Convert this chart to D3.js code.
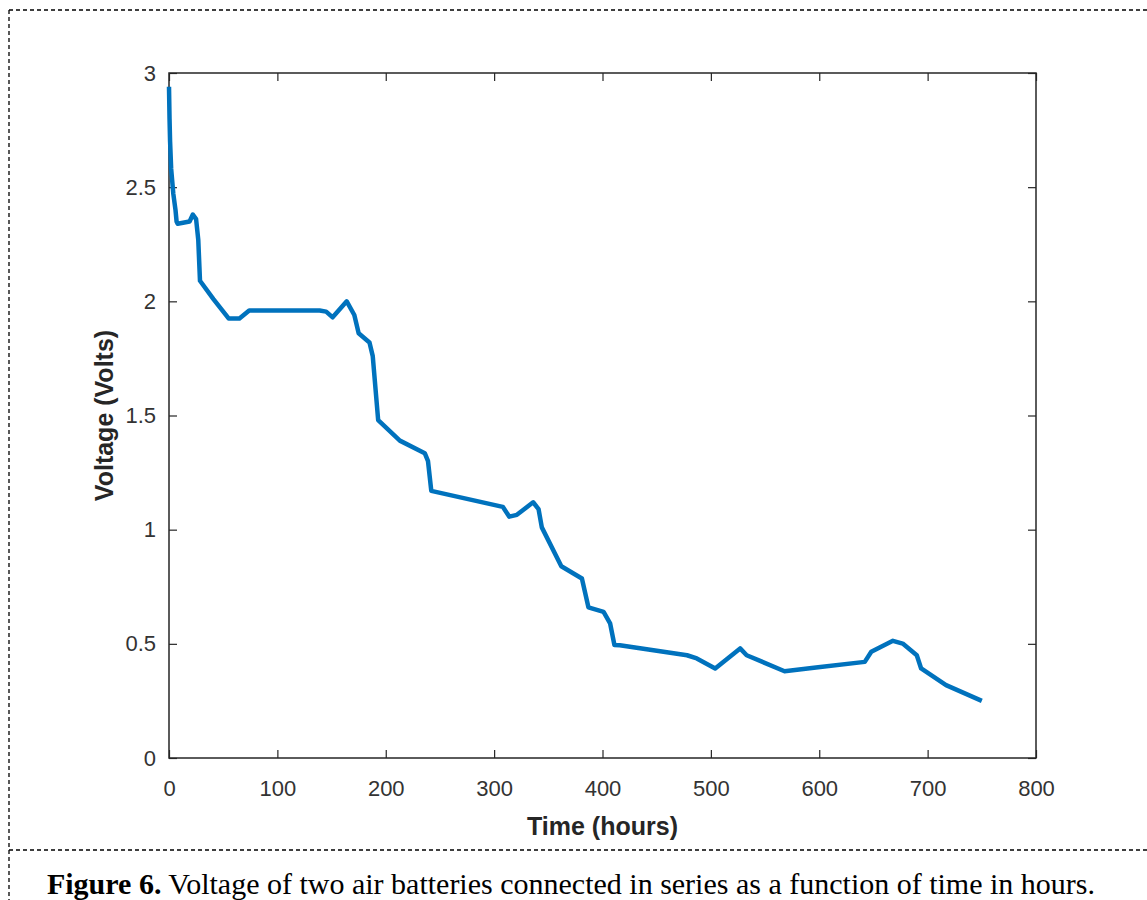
<!DOCTYPE html>
<html>
<head>
<meta charset="utf-8">
<script src="https://cdn.jsdelivr.net/npm/d3@7"></script>
<style>
  body { margin: 0; background: #fff; }
  svg { display: block; }
</style>
</head>
<body>
<div id="chart"></div>
<script>
// Voltage of two air batteries in series
const hours = [0, 0.5, 1, 2, 4, 6, 7, 8, 19, 22, 25, 27, 28.6, 41, 55, 65, 74,
  139, 145, 151, 164, 171, 175, 185, 188, 193, 213, 236, 239, 242,
  308, 314, 321, 336, 341, 344, 362, 381, 387, 401, 407, 411, 416,
  478, 487, 504, 527, 533, 568, 597, 642, 648, 668, 677, 690, 694, 717, 750];
const volts = [2.94, 2.8, 2.7, 2.58, 2.47, 2.4, 2.35, 2.34, 2.35, 2.38, 2.36, 2.27, 2.09, 2.01, 1.925, 1.925, 1.96,
  1.96, 1.955, 1.93, 2.0, 1.94, 1.86, 1.82, 1.76, 1.48, 1.39, 1.335, 1.3, 1.17,
  1.1, 1.057, 1.065, 1.12, 1.09, 1.01, 0.84, 0.786, 0.66, 0.64, 0.59, 0.495, 0.494,
  0.45, 0.436, 0.392, 0.48, 0.45, 0.38, 0.396, 0.421, 0.465, 0.513, 0.501, 0.45, 0.392, 0.319, 0.25];

const xTicks = [0, 100, 200, 300, 400, 500, 600, 700, 800];
const yTicks = [0, 0.5, 1, 1.5, 2, 2.5, 3];

const xLabel = "Time (hours)";
const yLabel = "Voltage (Volts)";
const captionBold = "Figure 6.";
const captionText = " Voltage of two air batteries connected in series as a function of time in hours.";

const width = 1147;
const height = 900;
const plot = { left: 169, right: 1036, top: 73, bottom: 758 };
const axisColor = "#262626";
const tickLen = 8;
const sans = "Liberation Sans, Arial, sans-serif";

const svg = d3.select("#chart")
  .append("svg")
  .attr("width", width)
  .attr("height", height);

// dashed frame of the figure box
const frame = svg.append("g")
  .attr("stroke", "#000")
  .attr("stroke-width", 1.3)
  .attr("stroke-dasharray", "4,3")
  .attr("fill", "none");
frame.append("line").attr("x1", 9).attr("y1", 10).attr("x2", width).attr("y2", 10);
frame.append("line").attr("x1", 9).attr("y1", 10).attr("x2", 9).attr("y2", height);
frame.append("line").attr("x1", 9).attr("y1", 850).attr("x2", width).attr("y2", 850);

const x = d3.scaleLinear().domain([0, 800]).range([plot.left, plot.right]);
const y = d3.scaleLinear().domain([0, 3]).range([plot.bottom, plot.top]);

function styleAxis(g) {
  g.select(".domain").remove();
  g.selectAll(".tick line").attr("stroke", axisColor).attr("stroke-width", 1.2);
  g.selectAll(".tick text")
    .attr("fill", "#333")
    .attr("font-family", sans)
    .attr("font-size", 22);
}

// bottom and left axes with labels, ticks pointing inward
svg.append("g")
  .attr("transform", `translate(0,${plot.bottom})`)
  .call(d3.axisBottom(x).tickValues(xTicks).tickFormat(d3.format("d"))
    .tickSizeInner(-tickLen).tickSizeOuter(0).tickPadding(22))
  .call(styleAxis);

svg.append("g")
  .attr("transform", `translate(${plot.left},0)`)
  .call(d3.axisLeft(y).tickValues(yTicks).tickFormat(d => d3.format("")(d))
    .tickSizeInner(-tickLen).tickSizeOuter(0).tickPadding(13))
  .call(styleAxis);

// top and right axes: ticks only
svg.append("g")
  .attr("transform", `translate(0,${plot.top})`)
  .call(d3.axisTop(x).tickValues(xTicks).tickFormat("")
    .tickSizeInner(-tickLen).tickSizeOuter(0))
  .call(styleAxis);

svg.append("g")
  .attr("transform", `translate(${plot.right},0)`)
  .call(d3.axisRight(y).tickValues(yTicks).tickFormat("")
    .tickSizeInner(-tickLen).tickSizeOuter(0))
  .call(styleAxis);

// the box
svg.append("rect")
  .attr("x", plot.left)
  .attr("y", plot.top)
  .attr("width", plot.right - plot.left)
  .attr("height", plot.bottom - plot.top)
  .attr("fill", "none")
  .attr("stroke", axisColor)
  .attr("stroke-width", 1.5);

// data line
const points = hours.map((h, i) => [h, volts[i]]);
svg.append("path")
  .datum(points)
  .attr("fill", "none")
  .attr("stroke", "#0072BD")
  .attr("stroke-width", 4.5)
  .attr("stroke-linejoin", "round")
  .attr("d", d3.line().x(d => x(d[0])).y(d => y(d[1])));

// axis titles
svg.append("text")
  .attr("x", (plot.left + plot.right) / 2)
  .attr("y", 835)
  .attr("text-anchor", "middle")
  .attr("font-family", sans)
  .attr("font-size", 25)
  .attr("font-weight", "bold")
  .attr("fill", axisColor)
  .text(xLabel);

svg.append("text")
  .attr("transform", `translate(113,${(plot.top + plot.bottom) / 2}) rotate(-90)`)
  .attr("text-anchor", "middle")
  .attr("font-family", sans)
  .attr("font-size", 25)
  .attr("font-weight", "bold")
  .attr("fill", axisColor)
  .text(yLabel);

// caption
const cap = svg.append("text")
  .attr("x", 571)
  .attr("y", 894)
  .attr("text-anchor", "middle")
  .attr("font-family", "Liberation Serif, Times New Roman, serif")
  .attr("font-size", 30)
  .attr("fill", "#000");
cap.append("tspan").attr("font-weight", "bold").text(captionBold);
cap.append("tspan").text(captionText);
</script>
</body>
</html>
